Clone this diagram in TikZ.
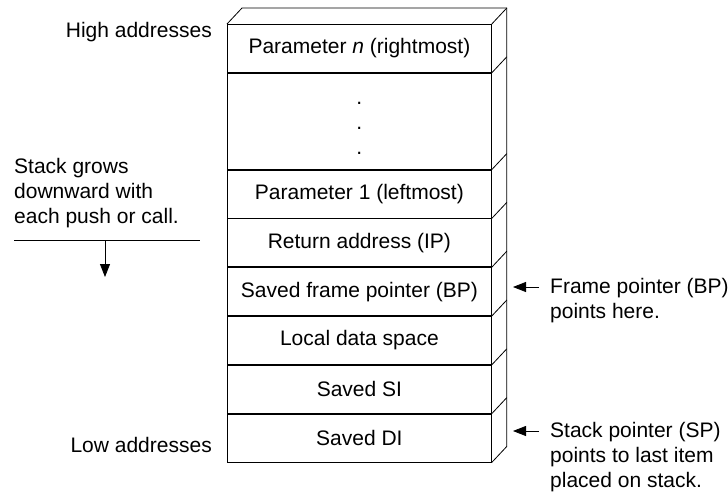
\documentclass[tikz,border=0pt]{standalone}
\usepackage{fontspec}
\setmainfont{Liberation Sans}
\usetikzlibrary{positioning}
\usetikzlibrary{arrows.meta}

\tikzset{
  slot/.style={draw, line width=0.8pt, minimum width=264pt, minimum height=48pt, inner sep=0pt,
    font=\fontsize{21}{25}\selectfont},
  note/.style={font=\fontsize{21}{25}\selectfont, align=left, inner sep=0pt},
  pointer/.style={-{Triangle[length=13pt,width=10pt]}, line width=0.8pt}
}

\begin{document}
\begin{tikzpicture}[x=1pt,y=-1pt]
\useasboundingbox (0,0) rectangle (728,501);
% the stack, one slot per item
\node [slot, anchor=north west] (parn) at (227,24) {Parameter \textit{n} (rightmost)};
\node [slot, minimum height=96pt, below=0pt of parn, align=center] (dots) {\rule{0pt}{16pt}.\\.\\.};
\node [slot, below=0pt of dots] (par1) {Parameter 1 (leftmost)};
\node [slot, below=0pt of par1] (ret) {Return address (IP)};
\node [slot, below=0pt of ret] (bp) {Saved frame pointer (BP)};
\node [slot, below=0pt of bp] (local) {Local data space};
\node [slot, below=0pt of local] (si) {Saved SI};
\node [slot, below=0pt of si] (di) {Saved DI};
% depth of the stack
\draw [line width=0.8pt] (parn.north west) -- ++(15,-16) -- ([shift={(15,-16)}]parn.north east)
  -- ([shift={(15,-16)}]di.south east) -- (di.south east);
\foreach \n in {parn,dots,par1,ret,bp,local,si}
  \draw [line width=0.8pt] (\n.south east) -- ++(15,-16);
\draw [line width=0.8pt] (parn.north east) -- ++(15,-16);
% left side
\node [note, anchor=base east] (high) at (212,37) {High addresses};
\node [note, anchor=base east] (low) at (212,452) {Low addresses};
\node [note, anchor=base west] (grows) at (14,223) {Stack grows\\downward with\\each push or call.};
\coordinate (ruleL) at (14,240);
\coordinate (ruleR) at (200,240);
\coordinate (growsTop) at (105,240);
\coordinate (growsTip) at (105,277);
\draw [line width=0.8pt] (ruleL) -- (ruleR);
\draw [pointer] (growsTop) -- (growsTip);
% right side
\node [note, anchor=base west] (fp) at (550,318) {Frame pointer (BP)\\points here.};
\node [note, anchor=base west] (sp) at (550,487) {Stack pointer (SP)\\points to last item\\placed on stack.};
\coordinate (fpTail) at (539,287);
\coordinate (fpTip) at (513,287);
\coordinate (spTail) at (539,431);
\coordinate (spTip) at (513,431);
\draw [pointer] (fpTail) -- (fpTip);
\draw [pointer] (spTail) -- (spTip);
\end{tikzpicture}
\end{document}
